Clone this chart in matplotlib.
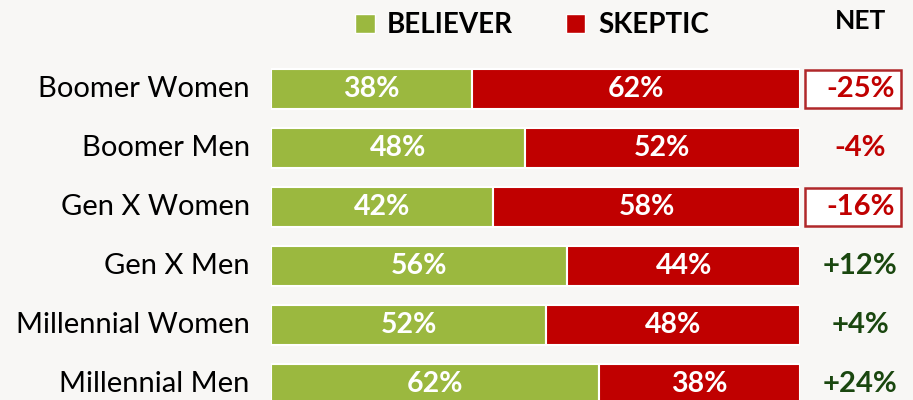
import matplotlib
matplotlib.use("Agg")
import matplotlib.pyplot as plt
from matplotlib.patches import Rectangle, Patch

plt.rcParams['font.family'] = ['Lato', 'DejaVu Sans']

groups = ["Boomer Women", "Boomer Men", "Gen X Women", "Gen X Men",
          "Millennial Women", "Millennial Men"]
believer = [38, 48, 42, 56, 52, 62]
skeptic = [62, 52, 58, 44, 48, 38]
net = [-25, -4, -16, 12, 4, 24]
highlight = ["Boomer Women", "Gen X Women"]

green = "#9BB83F"
red = "#C00000"
dark_green = "#1A470F"
bg = "#F8F7F5"

fig = plt.figure(figsize=(9.13, 4.0), dpi=100, facecolor=bg)
ax = fig.add_axes([271 / 913, 0, 529 / 913, 1])
ax.set_facecolor(bg)

rows = list(range(len(groups)))
ax.barh(rows, believer, height=0.68, color=green, edgecolor="white", linewidth=1.5)
ax.barh(rows, skeptic, left=believer, height=0.68, color=red, edgecolor="white", linewidth=1.5)

ax.set_xlim(0, 100)
ax.set_ylim((400 - 89) / 59, -89 / 59)
for s in ax.spines.values():
    s.set_visible(False)
ax.set_xticks([])
ax.set_yticks([])

for i, g in enumerate(groups):
    ax.text(-4.0, i, g, ha="right", va="center", fontsize=21, color="black")
    ax.text(believer[i] / 2, i, f"{believer[i]}%", ha="center", va="center",
            fontsize=20.5, fontweight="bold", color="white")
    ax.text(believer[i] + skeptic[i] / 2, i, f"{skeptic[i]}%", ha="center", va="center",
            fontsize=20.5, fontweight="bold", color="white")
    txt = f"{net[i]:+d}%" if net[i] > 0 else f"{net[i]}%"
    ax.text(111.4, i, txt, ha="center", va="center", fontsize=21, fontweight="bold",
            color=dark_green if net[i] > 0 else red, clip_on=False)
    if g in highlight:
        ax.add_patch(Rectangle((101.0, i - 0.33), 18.0, 0.66, facecolor="white",
                               edgecolor="#B0282A", linewidth=1.8, clip_on=False, zorder=0))

ax.text(111.4, -1.15, "NET", ha="center", va="center", fontsize=19,
        fontweight="bold", color="black", clip_on=False)

handles = [Patch(facecolor=green, edgecolor="white", label="BELIEVER"),
           Patch(facecolor=red, edgecolor="white", label="SKEPTIC")]
fig.legend(handles=handles, loc="center", bbox_to_anchor=(532 / 913, 1 - 25 / 400),
           ncol=2, frameon=False, handlelength=0.7, handleheight=0.7,
           handletextpad=0.45, columnspacing=1.9,
           prop={"size": 20, "weight": "bold"})

fig.savefig("out.png", dpi=100, facecolor=bg)
